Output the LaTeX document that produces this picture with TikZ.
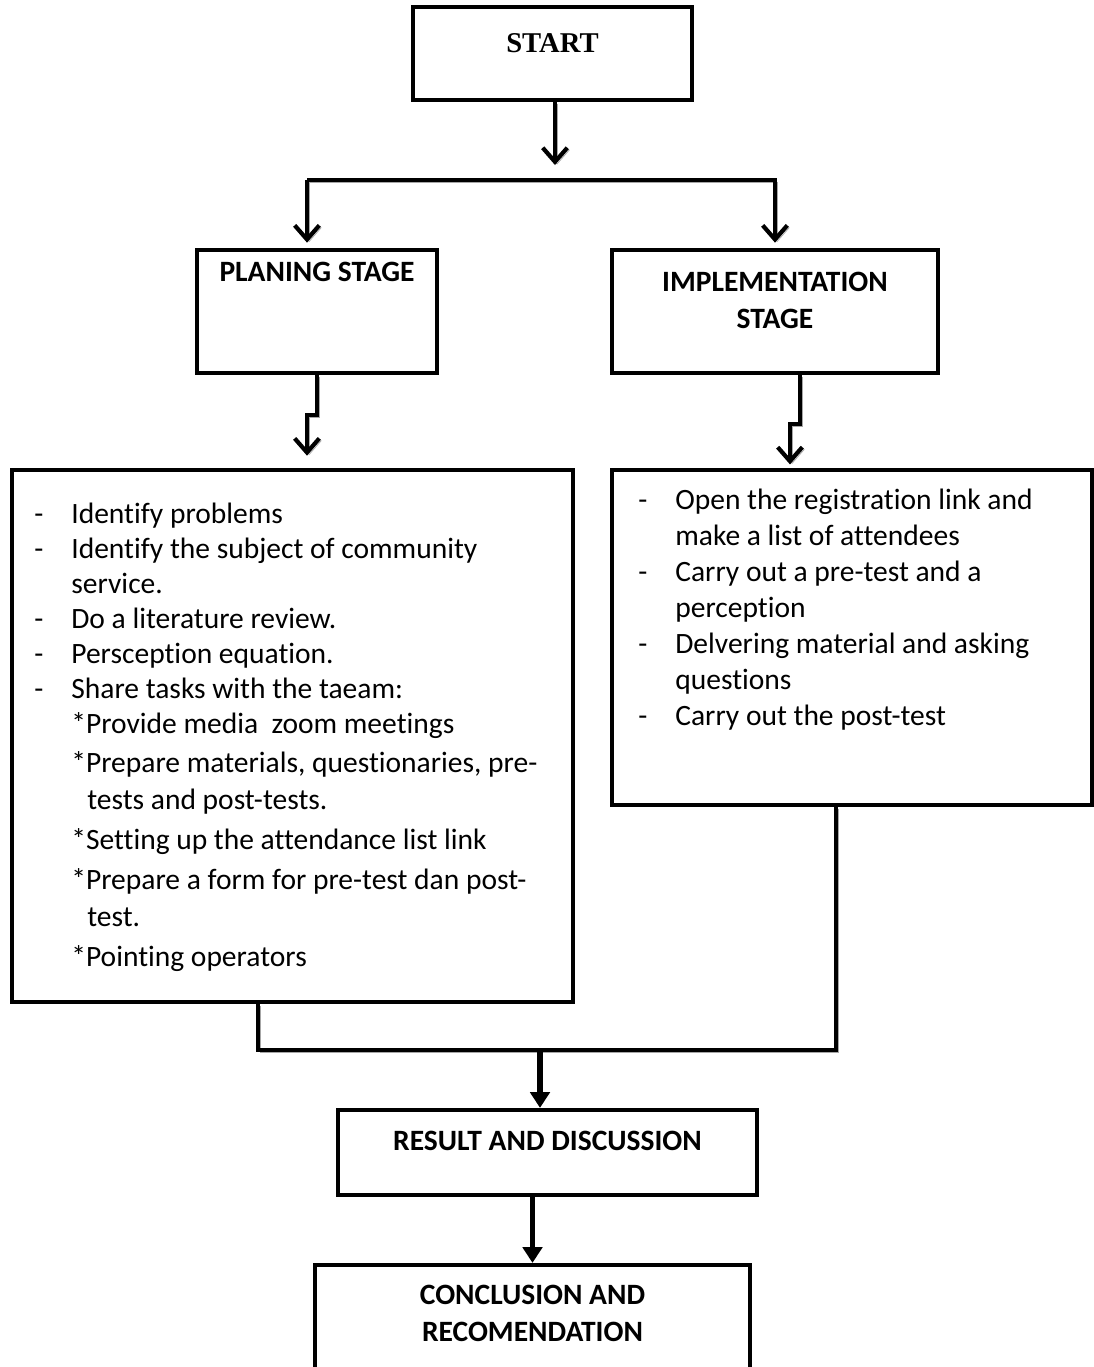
\documentclass[tikz,border=0pt]{standalone}
\usepackage{fontspec}
\setmainfont{Carlito}[Ligatures=CommonOff]
\newfontfamily\startfont{Liberation Serif}
\usetikzlibrary{arrows.meta,positioning,calc}

\newlength\dashw
\setlength\dashw{0.74cm}
\newcommand\itemdash{\makebox[\dashw][l]{-}}

\tikzset{
  stagebox/.style={draw, line width=2.4pt, inner sep=0pt, align=center,
    font=\bfseries\fontsize{16.8}{21}\selectfont, text height=10.5pt},
  listbox/.style={draw, line width=2.4pt, inner sep=0pt},
  listtext/.style={inner sep=0pt, align=left, anchor=base west},
  shade/.style={preaction={draw=black!35, transform canvas={shift={(1.2pt,-1.2pt)}}}},
  barb/.style={line width=2.4pt, shade, -{Straight Barb[length=8pt, width=14pt, line width=2.4pt]}},
  tri/.style={line width=3pt, -{Triangle[length=9pt, width=11pt]}},
  link/.style={line width=2.4pt, shade}
}

\begin{document}
\begin{tikzpicture}[x=0.02cm, y=-0.02cm]
  \useasboundingbox (0,0) rectangle (1094,1367);
  \clip (0,0) rectangle (1094,1367);

  % boxes
  \node[stagebox, minimum width=5.58cm, minimum height=1.86cm,
    font=\startfont\bfseries\fontsize{16.3}{20}\selectfont,
    text height=10.8pt, text depth=12pt] (start) at (552.5,53.5) {START};
  \node[stagebox, minimum width=4.8cm, minimum height=2.46cm, text depth=44.5pt]
    (plan) at (317,311.5) {PLANING STAGE};
  \node[stagebox, minimum width=6.52cm, minimum height=2.46cm,
    text height=31.5pt, text depth=12.2pt] (impl) at (775,311.5) {IMPLEMENTATION\\STAGE};
  \node[listbox, minimum width=11.22cm, minimum height=10.64cm] (pbox) at (292.5,736) {};
  \node[listbox, minimum width=9.6cm, minimum height=6.7cm] (ibox) at (852,637.5) {};
  \node[stagebox, minimum width=8.38cm, minimum height=1.7cm, text depth=12.8pt]
    (result) at (547.5,1152.5) {RESULT AND DISCUSSION};
  \node[stagebox, minimum width=8.7cm, minimum height=2.6cm,
    text height=31.5pt, text depth=18.5pt] (concl) at (532.5,1330) {CONCLUSION AND\\RECOMENDATION};

  % list texts
  \node[listtext, font=\fontsize{16.8}{19.85}\selectfont] (ptext) at (34,966.5) {%
    \itemdash Identify problems\\
    \itemdash Identify the subject of community\\
    \hspace*{\dashw}service.\\
    \itemdash Do a literature review.\\
    \itemdash Persception equation.\\
    \itemdash Share tasks with the taeam:\\
    \hspace*{\dashw}*Provide media\ \ zoom meetings\\[2.8pt]
    \hspace*{\dashw}*Prepare materials, questionaries, pre-\\[1.1pt]
    \hspace*{\dashw}\hspace*{0.32cm}tests and post-tests.\\[2.8pt]
    \hspace*{\dashw}*Setting up the attendance list link\\[2.8pt]
    \hspace*{\dashw}*Prepare a form for pre-test dan post-\\[1.1pt]
    \hspace*{\dashw}\hspace*{0.32cm}test.\\[3.2pt]
    \hspace*{\dashw}*Pointing operators};
  \node[listtext, font=\fontsize{16.8}{20.5}\selectfont] (itext) at (638,725.5) {%
    \itemdash Open the registration link and\\
    \hspace*{\dashw}make a list of attendees\\
    \itemdash Carry out a pre-test and a\\
    \hspace*{\dashw}perception\\
    \itemdash Delvering material and asking\\
    \hspace*{\dashw}questions\\
    \itemdash Carry out the post-test};

  % connectors
  \coordinate (split) at (555,165);
  \coordinate (fork) at (307,180);
  \coordinate (merge) at (540,1050);
  \coordinate (pout) at ($(pbox.south)+(-34.5,0)$);
  \coordinate (iout) at ($(ibox.south)+(-16,0)$);

  \draw[barb] (start.south -| split) -- (split);
  \draw[barb, shorten >=3pt] (fork) -- (fork |- plan.north);
  \draw[barb, shorten >=3pt] (fork) -| (impl.north);
  \draw[barb, shorten >=7pt] (plan.south) -- ++(0,40) -- ++(-10,0) -- (307,0 |- pbox.north);
  \draw[barb, shorten >=2pt] (impl.south) ++(25,0) -- ++(0,49) -- ++(-10,0) -- (790,0 |- ibox.north);
  \draw[link] (pout) -- (pout |- merge) -- (iout |- merge) -- (iout);
  \draw[tri] (merge) -- (merge |- result.north);
  \draw[tri] (result.south -| concl.north) -- (concl.north);
\end{tikzpicture}
\end{document}
